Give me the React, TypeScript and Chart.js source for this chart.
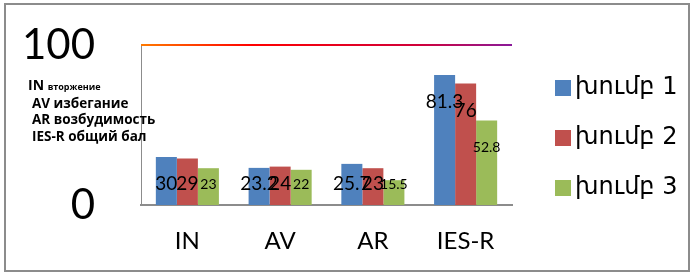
import React, { useEffect, useRef } from "react";
import { Chart, registerables } from "chart.js";

Chart.register(...registerables);

const categories = ["IN", "AV", "AR", "IES-R"];
const seriesNames = ["խումբ 1", "խումբ 2", "խումբ 3"];
const group1 = [30, 23.2, 25.7, 81.3];
const group2 = [29, 24, 23, 76];
const group3 = [23, 22, 15.5, 52.8];
const seriesColors = ["#4f81bd", "#c0504d", "#9bbb59"];
const yTickValues = [0, 100];
const noteLines = ["AV избегание", "AR возбудимость", "IES-R общий бал"];
const noteFirstMain = "IN";
const noteFirstSmall = "вторжение";

const labelFontSizes = [19, 19, 14];

const decorPlugin = {
  id: "decor",
  beforeDraw(chart: any) {
    const { ctx } = chart;
    ctx.save();
    ctx.fillStyle = "#ffffff";
    ctx.fillRect(0, 0, chart.width, chart.height);
    ctx.strokeStyle = "#8c8c8c";
    ctx.lineWidth = 2;
    ctx.strokeRect(5, 4, 684, 267);
    ctx.restore();
  },
  afterDraw(chart: any) {
    const { ctx, chartArea } = chart;
    ctx.save();
    const y = chart.scales.y.getPixelForValue(100);
    const g = ctx.createLinearGradient(chartArea.left, 0, chartArea.right, 0);
    g.addColorStop(0, "#ff7a00");
    g.addColorStop(0.3, "#ff0000");
    g.addColorStop(0.75, "#d0003a");
    g.addColorStop(1, "#8a1a9a");
    ctx.strokeStyle = g;
    ctx.lineWidth = 2;
    ctx.beginPath();
    ctx.moveTo(chartArea.left, y);
    ctx.lineTo(chartArea.right, y);
    ctx.stroke();

    ctx.fillStyle = "#000";
    ctx.textBaseline = "alphabetic";
    ctx.textAlign = "left";
    ctx.font = 'bold 14px "Open Sans"';
    ctx.fillText(noteFirstMain, 28, 90);
    const w = ctx.measureText(noteFirstMain + " ").width;
    ctx.font = 'bold 9px "Open Sans"';
    ctx.fillText(noteFirstSmall, 28 + w, 90);
    ctx.font = 'bold 13.5px "Open Sans"';
    const ys = [108, 124, 141];
    noteLines.forEach((t, i) => ctx.fillText(t, 32, ys[i]));

    const lx = chartArea.right + 43;
    const lys = [88, 138, 188];
    chart.data.datasets.forEach((ds: any, i: number) => {
      ctx.fillStyle = ds.backgroundColor;
      ctx.fillRect(lx, lys[i] - 8, 16, 16);
      ctx.fillStyle = "#000";
      ctx.font = '24px "DejaVu Sans"';
      ctx.textBaseline = "middle";
      ctx.fillText(ds.label, lx + 20, lys[i]);
    });
    ctx.restore();
  },
  afterDatasetsDraw(chart: any) {
    const { ctx } = chart;
    ctx.save();
    ctx.fillStyle = "#000";
    ctx.textAlign = "center";
    ctx.textBaseline = "middle";
    chart.data.datasets.forEach((ds: any, i: number) => {
      const meta = chart.getDatasetMeta(i);
      ctx.font = `${labelFontSizes[i]}px Lato`;
      meta.data.forEach((bar: any, j: number) => {
        const ly = Math.min(bar.y + 27, bar.base - 21);
        ctx.fillText(String(ds.data[j]), bar.x, ly);
      });
    });
    ctx.restore();
  },
};

export default function App() {
  const ref = useRef<HTMLCanvasElement | null>(null);
  useEffect(() => {
    if (!ref.current) return;
    const chart = new Chart(ref.current, {
      type: "bar",
      data: {
        labels: categories,
        datasets: [group1, group2, group3].map((d, i) => ({
          label: seriesNames[i],
          data: d,
          backgroundColor: seriesColors[i],
          borderWidth: 0,
          categoryPercentage: 0.68,
          barPercentage: 1,
        })),
      },
      options: {
        animation: false,
        responsive: false,
        maintainAspectRatio: false,
        layout: { padding: { top: 45, right: 182, left: 0, bottom: 0 } },
        plugins: { legend: { display: false }, tooltip: { enabled: false } },
        scales: {
          x: {
            grid: { display: false, drawTicks: false },
            border: { display: true, color: "#8c8c8c", width: 2 },
            ticks: { color: "#000", font: { family: "Lato", size: 24 }, padding: 22 },
            afterFit: (s: any) => { s.height = 68; s.paddingLeft = 0; s.paddingRight = 0; },
          },
          y: {
            min: 0,
            max: 100,
            grid: { display: false, drawTicks: false },
            border: { display: true, color: "#8c8c8c", width: 1 },
            afterBuildTicks: (s: any) => { s.ticks = yTickValues.map((v) => ({ value: v })); },
            ticks: { color: "#000", font: { family: "Lato", size: 42 }, padding: 46 },
            afterFit: (s: any) => { s.width = 141; s.paddingTop = 0; s.paddingBottom = 0; },
          },
        },
      },
      plugins: [decorPlugin],
    });
    return () => chart.destroy();
  }, []);
  return (
    <div style={{ position: "fixed", left: 0, top: 0, width: 694, height: 273 }}>
      <canvas ref={ref} width={694} height={273} style={{ width: 694, height: 273 }} />
    </div>
  );
}
